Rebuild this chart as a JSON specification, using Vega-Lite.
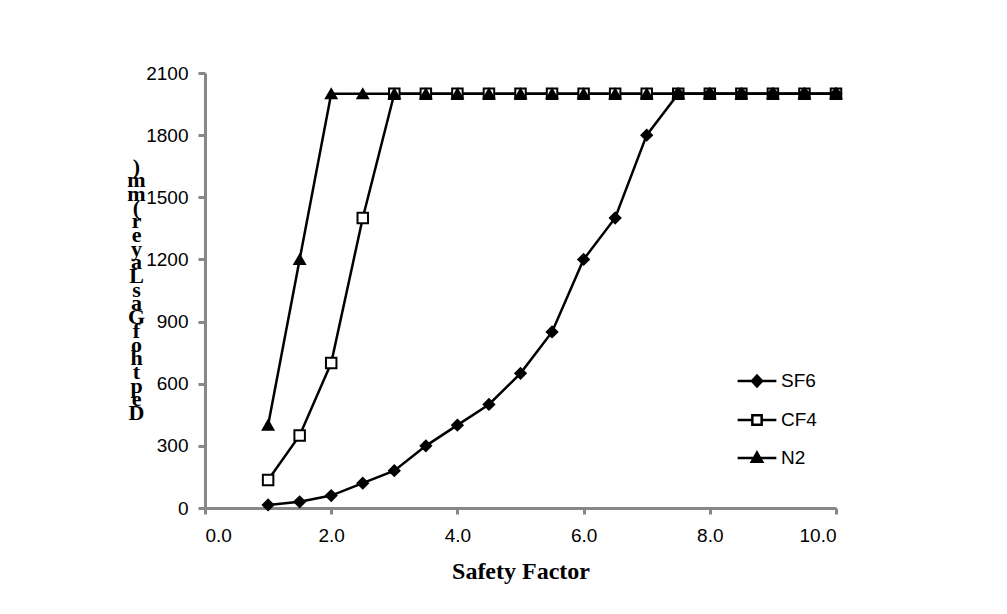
{
  "$schema": "https://vega.github.io/schema/vega-lite/v6.json",
  "width": 631,
  "height": 435,
  "autosize": {"type": "none"},
  "padding": {"left": 205, "top": 73, "right": 171, "bottom": 106},
  "background": "white",
  "config": {"view": {"stroke": null}},
  "data": {"values": [
    {"series": "CF4", "x": 1.0, "y": 135},
    {"series": "CF4", "x": 1.5, "y": 350},
    {"series": "CF4", "x": 2.0, "y": 700},
    {"series": "CF4", "x": 2.5, "y": 1400},
    {"series": "CF4", "x": 3.0, "y": 2000},
    {"series": "CF4", "x": 3.5, "y": 2000},
    {"series": "CF4", "x": 4.0, "y": 2000},
    {"series": "CF4", "x": 4.5, "y": 2000},
    {"series": "CF4", "x": 5.0, "y": 2000},
    {"series": "CF4", "x": 5.5, "y": 2000},
    {"series": "CF4", "x": 6.0, "y": 2000},
    {"series": "CF4", "x": 6.5, "y": 2000},
    {"series": "CF4", "x": 7.0, "y": 2000},
    {"series": "CF4", "x": 7.5, "y": 2000},
    {"series": "CF4", "x": 8.0, "y": 2000},
    {"series": "CF4", "x": 8.5, "y": 2000},
    {"series": "CF4", "x": 9.0, "y": 2000},
    {"series": "CF4", "x": 9.5, "y": 2000},
    {"series": "CF4", "x": 10.0, "y": 2000},
    {"series": "SF6", "x": 1.0, "y": 15},
    {"series": "SF6", "x": 1.5, "y": 30},
    {"series": "SF6", "x": 2.0, "y": 60},
    {"series": "SF6", "x": 2.5, "y": 120},
    {"series": "SF6", "x": 3.0, "y": 180},
    {"series": "SF6", "x": 3.5, "y": 300},
    {"series": "SF6", "x": 4.0, "y": 400},
    {"series": "SF6", "x": 4.5, "y": 500},
    {"series": "SF6", "x": 5.0, "y": 650},
    {"series": "SF6", "x": 5.5, "y": 850},
    {"series": "SF6", "x": 6.0, "y": 1200},
    {"series": "SF6", "x": 6.5, "y": 1400},
    {"series": "SF6", "x": 7.0, "y": 1800},
    {"series": "SF6", "x": 7.5, "y": 2000},
    {"series": "SF6", "x": 8.0, "y": 2000},
    {"series": "SF6", "x": 8.5, "y": 2000},
    {"series": "SF6", "x": 9.0, "y": 2000},
    {"series": "SF6", "x": 9.5, "y": 2000},
    {"series": "SF6", "x": 10.0, "y": 2000},
    {"series": "N2", "x": 1.0, "y": 400},
    {"series": "N2", "x": 1.5, "y": 1200},
    {"series": "N2", "x": 2.0, "y": 2000},
    {"series": "N2", "x": 2.5, "y": 2000},
    {"series": "N2", "x": 3.0, "y": 2000},
    {"series": "N2", "x": 3.5, "y": 2000},
    {"series": "N2", "x": 4.0, "y": 2000},
    {"series": "N2", "x": 4.5, "y": 2000},
    {"series": "N2", "x": 5.0, "y": 2000},
    {"series": "N2", "x": 5.5, "y": 2000},
    {"series": "N2", "x": 6.0, "y": 2000},
    {"series": "N2", "x": 6.5, "y": 2000},
    {"series": "N2", "x": 7.0, "y": 2000},
    {"series": "N2", "x": 7.5, "y": 2000},
    {"series": "N2", "x": 8.0, "y": 2000},
    {"series": "N2", "x": 8.5, "y": 2000},
    {"series": "N2", "x": 9.0, "y": 2000},
    {"series": "N2", "x": 9.5, "y": 2000},
    {"series": "N2", "x": 10.0, "y": 2000}
  ]},
  "encoding": {
    "x": {
      "field": "x", "type": "quantitative",
      "scale": {"domain": [0, 10], "nice": false, "zero": false},
      "axis": {
        "title": "Safety Factor",
        "values": [0, 2, 4, 6, 8, 10],
        "format": ".1f",
        "grid": false,
        "domainColor": "#878787", "domainWidth": 3,
        "tickColor": "#878787", "tickWidth": 3, "tickSize": 6,
        "labelFont": "Liberation Sans", "labelFontSize": 19, "labelColor": "black",
        "labelPadding": 12,
        "titleFont": "Liberation Serif", "titleFontSize": 24, "titleFontWeight": "bold",
        "titleColor": "black", "titlePadding": 14
      }
    },
    "y": {
      "field": "y", "type": "quantitative",
      "scale": {"domain": [0, 2100], "nice": false},
      "axis": {
        "title": [")", "m", "m", "(", "r", "e", "y", "a", "L", "s", "a", "G", "f", "o", "h", "t", "p", "e", "D"],
        "values": [0, 300, 600, 900, 1200, 1500, 1800, 2100],
        "format": "d",
        "grid": false,
        "domainColor": "#878787", "domainWidth": 3,
        "tickColor": "#878787", "tickWidth": 3, "tickSize": 7,
        "labelFont": "Liberation Sans", "labelFontSize": 19, "labelColor": "black",
        "labelPadding": 10,
        "titleFont": "Liberation Serif", "titleFontSize": 22, "titleFontWeight": "bold",
        "titleColor": "black", "titleAngle": 0, "titleAlign": "center",
        "titleBaseline": "middle", "titleLineHeight": 13.7,
        "titleX": -69, "titleY": 93
      }
    }
  },
  "layer": [
    {
      "mark": {"type": "line", "color": "black", "strokeWidth": 2.5},
      "encoding": {"detail": {"field": "series", "type": "nominal"}}
    },
    {
      "mark": {"type": "point", "filled": true, "stroke": "black", "strokeWidth": 2, "opacity": 1, "size": 110},
      "encoding": {
        "shape": {
          "field": "series", "type": "nominal",
          "scale": {"domain": ["SF6", "CF4", "N2"], "range": ["diamond", "square", "triangle-up"]},
          "legend": null
        },
        "fill": {
          "field": "series", "type": "nominal",
          "scale": {"domain": ["SF6", "CF4", "N2"], "range": ["black", "white", "black"]},
          "legend": null
        }
      }
    },
    {
      "mark": {"type": "point", "opacity": 0, "size": 1500},
      "encoding": {
        "shape": {
          "field": "series", "type": "nominal",
          "scale": {
            "domain": ["SF6", "CF4", "N2"],
            "range": [
              "M-1,0H1M0,-0.28L0.26,0L0,0.28L-0.26,0ZM0,-0.17L0.16,0L0,0.17L-0.16,0ZM0,-0.07L0.06,0L0,0.07L-0.06,0Z",
              "M-1,0H-0.24M0.24,0H1M-0.24,-0.24H0.24V0.24H-0.24Z",
              "M-1,0H1M0,-0.28L0.27,0.2L-0.27,0.2ZM0,-0.14L0.15,0.12L-0.15,0.12ZM0,-0.02L0.04,0.06L-0.04,0.06Z"
            ]
          },
          "legend": {
            "title": null,
            "orient": "none",
            "legendX": 531,
            "legendY": 287,
            "padding": 0,
            "rowPadding": 7,
            "symbolSize": 1500,
            "symbolOpacity": 1,
            "symbolFillColor": "transparent",
            "symbolStrokeColor": "black",
            "symbolStrokeWidth": 2.5,
            "labelFont": "Liberation Sans",
            "labelFontSize": 19,
            "labelColor": "black",
            "labelOffset": 3
          }
        }
      }
    }
  ],
  "resolve": {"scale": {"shape": "independent"}, "legend": {"shape": "independent"}}
}
